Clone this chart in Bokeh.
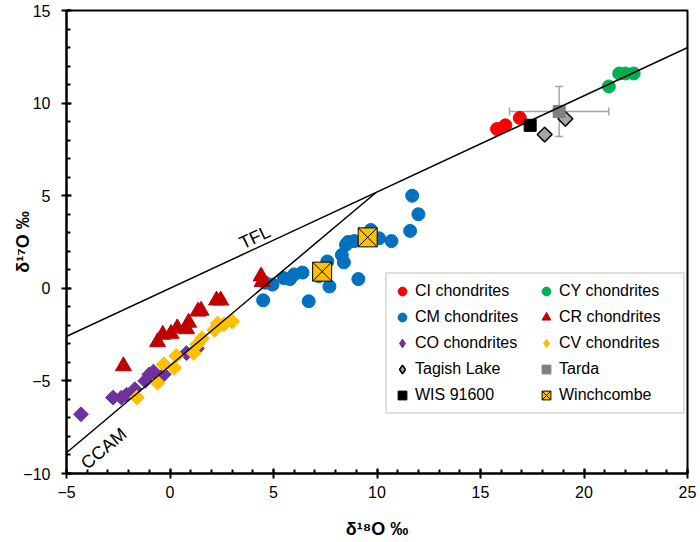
import math
from bokeh.plotting import figure
from bokeh.models import (ColumnDataSource, Legend, LegendItem, FixedTicker,
                          CustomJSTickFormatter, Whisker, TeeHead, Slope, Label)
from bokeh.embed import file_html
from bokeh.resources import INLINE

# ---------------- data ----------------
ci_x = [15.8, 16.2, 16.9]
ci_y = [8.6, 8.8, 9.2]

cy_x = [21.2, 21.7, 22.0, 22.4]
cy_y = [10.9, 11.6, 11.6, 11.6]

cm_x = [11.7, 12.0, 11.6, 10.7, 10.1, 9.7, 8.9, 8.6, 8.5, 8.3, 8.4, 9.1, 7.6, 7.7,
        7.2, 6.4, 6.0, 5.8, 5.5, 4.95, 4.6, 4.5, 6.7]
cm_y = [5.0, 4.0, 3.1, 2.55, 2.7, 3.15, 2.55, 2.5, 2.35, 1.8, 1.4, 0.5, 1.45, 0.1,
        0.65, 0.85, 0.75, 0.5, 0.55, 0.2, 0.3, -0.65, -0.7]

cr_x = [-2.25, -0.6, -0.35, 0.05, 0.35, 0.8, 0.9, 1.35, 1.5, 2.25, 2.45, 4.4, 4.45]
cr_y = [-4.2, -2.9, -2.5, -2.45, -2.15, -2.2, -1.85, -1.25, -1.2, -0.65, -0.65, 0.65, 0.35]

co_x = [-4.3, -2.75, -2.35, -2.1, -1.7, -1.2, -1.0, -0.8, -0.3, 0.8, 1.3]
co_y = [-6.8, -5.9, -5.9, -5.75, -5.45, -5.0, -4.65, -4.5, -4.65, -3.5, -3.25]

cv_x = [-1.6, -0.6, -0.3, 0.2, 0.3, 1.15, 1.3, 1.55, 2.15, 2.3, 2.6, 3.0]
cv_y = [-5.9, -5.1, -4.1, -4.3, -3.65, -3.5, -3.05, -2.7, -2.25, -1.9, -1.95, -1.8]

tagish_x = [18.1, 19.1]
tagish_y = [8.3, 9.15]

tarda_x = [18.8]
tarda_y = [9.55]
tarda_xerr = [2.4]
tarda_yerr = [1.35]

wis_x = [17.4]
wis_y = [8.8]

winch_x = [7.35, 9.55]
winch_y = [0.9, 2.75]

tfl_slope, tfl_icpt = 0.52, 0.0
ccam_slope, ccam_icpt = 0.94, -4.18

x_ticks = [-5, 0, 5, 10, 15, 20, 25]
y_ticks = [-10, -5, 0, 5, 10, 15]

FONT = "Liberation Sans"

# ---------------- figure ----------------
p = figure(width=698, height=541, output_backend="svg", toolbar_location=None,
           x_range=(-5, 25), y_range=(-10, 15),
           min_border_left=66, min_border_right=11, min_border_top=10, min_border_bottom=67,
           background_fill_color="white", border_fill_color="white")
p.xgrid.visible = False
p.ygrid.visible = False
p.outline_line_color = "black"
p.outline_line_width = 2

p.xaxis.ticker = FixedTicker(ticks=x_ticks, minor_ticks=list(range(-5, 26)))
p.yaxis.ticker = FixedTicker(ticks=y_ticks, minor_ticks=list(range(-10, 16)))
p.yaxis.formatter = CustomJSTickFormatter(
    code="return tick < 0 ? '\\u2212' + Math.abs(tick) : String(tick);")

for ax in (p.xaxis[0], p.yaxis[0]):
    ax.axis_line_width = 2
    ax.axis_line_color = "black"
    ax.major_tick_line_width = 2
    ax.major_tick_line_color = "black"
    ax.minor_tick_line_width = 2
    ax.minor_tick_line_color = "black"
    ax.major_tick_in = 5
    ax.major_tick_out = 5
    ax.minor_tick_in = 4
    ax.minor_tick_out = 0
    ax.major_label_text_font = FONT
    ax.major_label_text_font_size = "16px"
    ax.major_label_text_color = "black"
    ax.axis_label_text_font = FONT
    ax.axis_label_text_font_size = "18px"
    ax.axis_label_text_font_style = "bold"
    ax.axis_label_text_color = "black"

p.xaxis.axis_label = "δ¹⁸O ‰"
p.yaxis.axis_label = "δ¹⁷O ‰"
p.xaxis.major_label_standoff = 7
p.xaxis.axis_label_standoff = 18
p.yaxis.major_label_standoff = 11
p.yaxis.axis_label_standoff = -13

# ---------------- error bars (Tarda) ----------------
grey = "#a6a6a6"
err_src = ColumnDataSource(dict(
    x=tarda_x, y=tarda_y,
    xl=[v - e for v, e in zip(tarda_x, tarda_xerr)],
    xu=[v + e for v, e in zip(tarda_x, tarda_xerr)],
    yl=[v - e for v, e in zip(tarda_y, tarda_yerr)],
    yu=[v + e for v, e in zip(tarda_y, tarda_yerr)],
))
p.add_layout(Whisker(base="y", lower="xl", upper="xu", dimension="width", source=err_src,
                     line_color=grey, line_width=1.5,
                     lower_head=TeeHead(size=8, line_color=grey, line_width=1.5),
                     upper_head=TeeHead(size=8, line_color=grey, line_width=1.5)))
p.add_layout(Whisker(base="x", lower="yl", upper="yu", dimension="height", source=err_src,
                     line_color=grey, line_width=1.5,
                     lower_head=TeeHead(size=8, line_color=grey, line_width=1.5),
                     upper_head=TeeHead(size=8, line_color=grey, line_width=1.5)))

# ---------------- markers ----------------
rot = math.pi / 4
# small diamond renderers (hidden under the rotated squares) used for the legend glyphs
r_co_leg = p.scatter(co_x, co_y, marker="diamond", size=1, fill_color="#7030a0", line_color="#7030a0")
r_cv_leg = p.scatter(cv_x, cv_y, marker="diamond", size=1, fill_color="#ffc000", line_color="#ffc000")
r_tag_leg = p.scatter(tagish_x, tagish_y, marker="diamond", size=1, fill_color=grey,
                      line_color="black", line_width=1.5)

r_ci = p.scatter(ci_x, ci_y, marker="circle", size=13, fill_color="#ff0000", line_color="#ff0000")
r_cy = p.scatter(cy_x, cy_y, marker="circle", size=13, fill_color="#00b050", line_color="#00b050")
r_cm = p.scatter(cm_x, cm_y, marker="circle", size=13, fill_color="#0070c0", line_color="#0070c0")
r_cr = p.scatter(cr_x, cr_y, marker="triangle", size=16, fill_color="#c00000", line_color="#c00000")
p.scatter(co_x, co_y, marker="square", angle=rot, size=10.5, fill_color="#7030a0", line_color="#7030a0")
p.scatter(cv_x, cv_y, marker="square", angle=rot, size=10.5, fill_color="#ffc000", line_color="#ffc000")
p.scatter(tagish_x, tagish_y, marker="square", angle=rot, size=10.5, fill_color=grey,
          line_color="black", line_width=1.5)
r_tarda = p.scatter(tarda_x, tarda_y, marker="square", size=12, fill_color="#808080", line_color="#808080")
r_wis = p.scatter(wis_x, wis_y, marker="square", size=12, fill_color="black", line_color="black")
r_winch = p.scatter(winch_x, winch_y, marker="square_x", size=19, fill_color="#ffc000",
                    line_color="black", line_width=1)

# ---------------- reference lines ----------------
p.add_layout(Slope(gradient=tfl_slope, y_intercept=tfl_icpt, line_color="black", line_width=1.5))
x_int = (tfl_icpt - ccam_icpt) / (ccam_slope - tfl_slope)
ccam_xs = [-5, x_int]
ccam_ys = [ccam_slope * v + ccam_icpt for v in ccam_xs]
p.line(ccam_xs, ccam_ys, line_color="black", line_width=1.5)

p.add_layout(Label(x=4.1, y=2.75, text="TFL", angle=25, angle_units="deg",
                   text_align="center", text_baseline="middle",
                   text_font=FONT, text_font_size="18px", text_color="black"))
p.add_layout(Label(x=-3.2, y=-8.65, text="CCAM", angle=40, angle_units="deg",
                   text_align="center", text_baseline="middle",
                   text_font=FONT, text_font_size="18px", text_color="black"))

# ---------------- legend ----------------
items = [
    LegendItem(label="CI chondrites", renderers=[r_ci]),
    LegendItem(label="CM chondrites", renderers=[r_cm]),
    LegendItem(label="CO chondrites", renderers=[r_co_leg]),
    LegendItem(label="Tagish Lake", renderers=[r_tag_leg]),
    LegendItem(label="WIS 91600", renderers=[r_wis]),
    LegendItem(label="CY chondrites", renderers=[r_cy]),
    LegendItem(label="CR chondrites", renderers=[r_cr]),
    LegendItem(label="CV chondrites", renderers=[r_cv_leg]),
    LegendItem(label="Tarda", renderers=[r_tarda]),
    LegendItem(label="Winchcombe", renderers=[r_winch]),
]
legend = Legend(items=items, location=(319, 59), ncols=2, orientation="vertical",
                glyph_width=22, glyph_height=26, label_height=26, label_width=120,
                label_standoff=2, spacing=0, padding=4, margin=0,
                label_text_font=FONT, label_text_font_size="16px", label_text_color="black",
                border_line_color="#c0c0c0", border_line_width=2,
                background_fill_color="white", background_fill_alpha=1)
p.add_layout(legend)

open("out.html", "w").write(file_html(p, INLINE))
